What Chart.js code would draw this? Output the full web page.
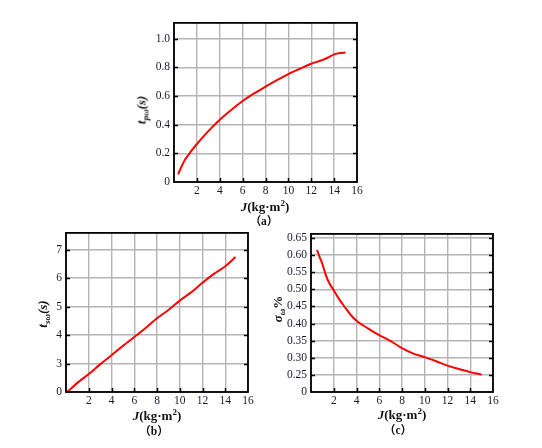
<!DOCTYPE html>
<html>
<head>
<meta charset="utf-8">
<script src="https://cdn.jsdelivr.net/npm/chart.js@4.4.1/dist/chart.umd.min.js"></script>
<style>
  html,body{margin:0;padding:0;background:#fff;}
  body{width:542px;height:448px;position:relative;overflow:hidden;font-family:'Liberation Serif','Times New Roman',serif;}
  .box{position:absolute;}
  .t{position:absolute;white-space:nowrap;color:#111;font-weight:bold;font-size:13px;transform:translate(-50%,-50%);}
  .yt{transform:translate(-50%,-50%) rotate(-90deg);}
  sub{font-size:9px;vertical-align:-3px;}
  sup{font-size:9px;vertical-align:5px;}
  .cap{font-size:11.5px;font-family:'Liberation Serif','Noto Sans CJK SC',serif;}
</style>
</head>
<body>
<div class="box" style="left:134px;top:12px;width:235px;height:190px;"><canvas id="ca"></canvas></div>
<div class="box" style="left:26px;top:222px;width:234px;height:190px;"><canvas id="cb"></canvas></div>
<div class="box" style="left:271px;top:223px;width:234px;height:189px;"><canvas id="cc"></canvas></div>

<div class="t yt" style="left:142px;top:110px;"><i>t</i><sub><i>pω</i></sub><i>(s)</i></div>
<div class="t" style="left:265px;top:206px;"><i>J</i>(kg·m<sup>2</sup>)</div>
<div class="t cap" style="left:264px;top:220px;">（a）</div>

<div class="t yt" style="left:43px;top:314px;"><i>t</i><sub><i>sω</i></sub><i>(s)</i></div>
<div class="t" style="left:157px;top:415px;"><i>J</i>(kg·m<sup>2</sup>)</div>
<div class="t cap" style="left:154px;top:430px;">（b）</div>

<div class="t yt" style="left:278px;top:309px;"><i>σ</i><sub><i>ω</i></sub>%</div>
<div class="t" style="left:402px;top:414px;"><i>J</i>(kg·m<sup>2</sup>)</div>
<div class="t cap" style="left:398px;top:429px;">（c）</div>

<script>
// ---- data ----
const xTickValues = [0, 2, 4, 6, 8, 10, 12, 14, 16];
const xTickLabels = ["", "2", "4", "6", "8", "10", "12", "14", "16"];

// (a) t_pω vs J
const jA  = [0.36, 0.5, 1, 1.5, 2, 3, 4, 5, 6, 7, 8, 9, 10, 11, 12, 13, 13.5, 14, 14.5, 15];
const tpA = [0.053, 0.08, 0.16, 0.215, 0.265, 0.355, 0.435, 0.503, 0.565, 0.618, 0.665, 0.71, 0.753, 0.79, 0.825, 0.852, 0.87, 0.89, 0.9, 0.903];
const aTickValues = [0, 0.2, 0.4, 0.6, 0.8, 1.0];
const aTickLabels = ["0", "0.2", "0.4", "0.6", "0.8", "1.0"];

// (b) t_sω vs J (broken axis: bottom labelled 0)
const jB  = [0.1, 1, 2, 3, 4, 5, 6, 7, 8, 9, 10, 11, 12, 13, 14, 14.9];
const tsB = [2.0, 2.32, 2.63, 2.97, 3.29, 3.62, 3.93, 4.25, 4.59, 4.88, 5.21, 5.5, 5.84, 6.15, 6.42, 6.74];
const bTickValues = [2, 3, 4, 5, 6, 7];
const bTickLabels = ["0", "3", "4", "5", "6", "7"];

// (c) σ_ω% vs J (broken axis: bottom labelled 0)
const jC = [0.53, 0.75, 1, 1.27, 1.5, 2, 2.5, 3, 3.5, 4, 5, 6, 7, 8, 9, 10, 11, 12, 13, 14, 15];
const sC = [0.615, 0.595, 0.574, 0.545, 0.525, 0.497, 0.47, 0.447, 0.425, 0.408, 0.386, 0.366, 0.349, 0.328, 0.312, 0.302, 0.29, 0.277, 0.267, 0.258, 0.251];
const cTickValues = [0.20, 0.25, 0.30, 0.35, 0.40, 0.45, 0.50, 0.55, 0.60, 0.65];
const cTickLabels = ["0", "0.25", "0.30", "0.35", "0.40", "0.45", "0.50", "0.55", "0.60", "0.65"];

Chart.defaults.font.family = "'Liberation Serif','Times New Roman',serif";
Chart.defaults.font.size = 11.5;
Chart.defaults.color = '#1a1a2a';

const frame = {
  id: 'frame',
  afterDraw(chart) {
    const ctx = chart.ctx, a = chart.chartArea, y = chart.scales.y, x = chart.scales.x;
    ctx.save();
    ctx.strokeStyle = '#000';
    ctx.lineWidth = 1.5;
    ctx.beginPath();
    y.ticks.forEach(t => {
      const py = Math.round(y.getPixelForValue(t.value)) + 0.5;
      if (py <= a.top + 1 || py >= a.bottom - 1) return;
      ctx.moveTo(a.left, py); ctx.lineTo(a.left + 4, py);
      ctx.moveTo(a.right - 4, py); ctx.lineTo(a.right, py);
    });
    x.ticks.forEach(t => {
      const px = Math.round(x.getPixelForValue(t.value)) + 0.5;
      if (px <= a.left + 1 || px >= a.right - 1) return;
      ctx.moveTo(px, a.bottom); ctx.lineTo(px, a.bottom - 4);
    });
    ctx.stroke();
    ctx.lineWidth = 1.8;
    ctx.strokeRect(a.left, a.top, a.right - a.left, a.bottom - a.top);
    ctx.restore();
  }
};

function makeChart(id, xs, ys, yMin, yMax, yVals, yLabels) {
  const pts = xs.map((v, i) => ({x: v, y: ys[i]}));
  return new Chart(document.getElementById(id), {
    type: 'line',
    data: { datasets: [{ data: pts, borderColor: '#ff0000', borderWidth: 2, pointRadius: 0, cubicInterpolationMode: 'monotone', fill: false }] },
    options: {
      responsive: true, maintainAspectRatio: false, animation: false,
      layout: { padding: { left: 0, top: 10, right: 12, bottom: 0 } },
      plugins: { legend: { display: false }, tooltip: { enabled: false } },
      scales: {
        x: {
          type: 'linear', min: 0, max: 16,
          afterBuildTicks: s => { s.ticks = xTickValues.map(v => ({value: v})); },
          afterFit: s => { s.height = 20; },
          ticks: { padding: 2, maxRotation: 0, autoSkip: false, callback: (v, i) => xTickLabels[i] },
          grid: { color: '#b4b4b4', lineWidth: 1.4, drawTicks: false },
          border: { display: false }
        },
        y: {
          type: 'linear', min: yMin, max: yMax,
          afterBuildTicks: s => { s.ticks = yVals.map(v => ({value: v})); },
          afterFit: s => { s.width = 40; },
          ticks: { padding: 4, autoSkip: false, callback: (v, i) => yLabels[i] },
          grid: { color: '#b4b4b4', lineWidth: 1.4, drawTicks: false },
          border: { display: false }
        }
      }
    },
    plugins: [frame]
  });
}

makeChart('ca', jA, tpA, 0, 1.11, aTickValues, aTickLabels);
makeChart('cb', jB, tsB, 2.0, 7.59, bTickValues, bTickLabels);
makeChart('cc', jC, sC, 0.20, 0.662, cTickValues, cTickLabels);
</script>
</body>
</html>
